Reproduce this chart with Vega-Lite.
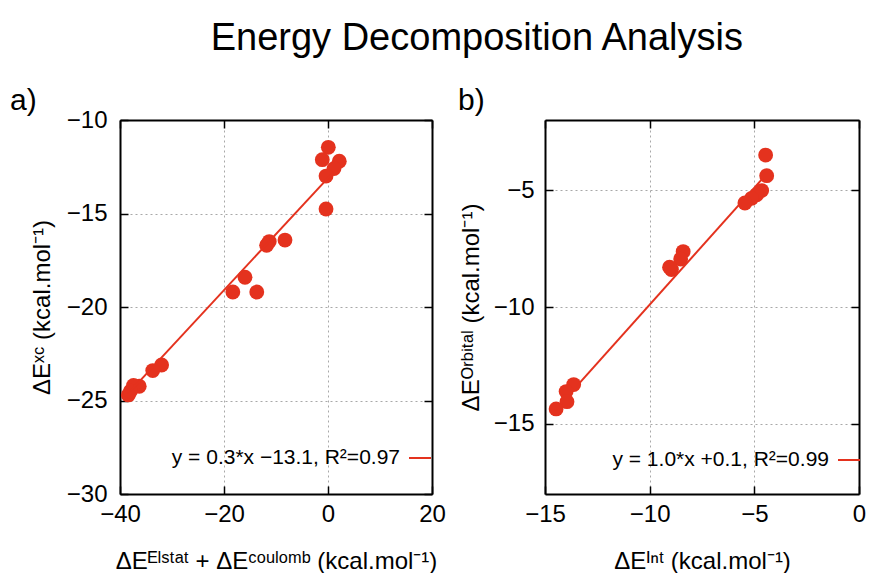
{
  "$schema": "https://vega.github.io/schema/vega-lite/v6.json",
  "autosize": {"type": "pad"},
  "padding": {"left": 10, "top": 20, "right": 0, "bottom": 0},
  "background": "white",
  "title": {"text": "Energy Decomposition Analysis", "fontSize": 38, "fontWeight": "normal", "font": "Liberation Sans", "color": "black", "anchor": "middle", "dx": 39, "offset": 28},
  "datasets": {
    "a_pts": [
      {"x": 0.06, "y": -11.46}, {"x": -1.1, "y": -12.12}, {"x": 2.17, "y": -12.2}, {"x": 1.15, "y": -12.6},
      {"x": -0.38, "y": -13.0}, {"x": -0.38, "y": -14.76}, {"x": -11.3, "y": -16.5}, {"x": -11.8, "y": -16.7},
      {"x": -8.27, "y": -16.42}, {"x": -15.96, "y": -18.41}, {"x": -18.3, "y": -19.2}, {"x": -13.7, "y": -19.2},
      {"x": -32.0, "y": -23.1}, {"x": -33.7, "y": -23.4}, {"x": -36.3, "y": -24.24}, {"x": -37.4, "y": -24.2},
      {"x": -38.4, "y": -24.7}, {"x": -38.0, "y": -24.5}
    ],
    "a_fit": [
      {"x": -38.4, "y": -24.62, "fit": "y = 0.3*x −13.1, R²=0.97"},
      {"x": 1.0, "y": -12.8, "fit": "y = 0.3*x −13.1, R²=0.97"}
    ],
    "b_pts": [
      {"x": -4.46, "y": -3.5}, {"x": -4.41, "y": -4.38}, {"x": -4.65, "y": -5.02}, {"x": -4.89, "y": -5.2},
      {"x": -5.13, "y": -5.35}, {"x": -5.45, "y": -5.55}, {"x": -8.4, "y": -7.63}, {"x": -8.52, "y": -7.95},
      {"x": -8.96, "y": -8.4}, {"x": -9.05, "y": -8.3}, {"x": -13.63, "y": -13.32}, {"x": -13.99, "y": -13.62},
      {"x": -13.95, "y": -14.05}, {"x": -14.47, "y": -14.36}
    ],
    "b_fit": [
      {"x": -14.5, "y": -14.4, "fit": "y = 1.0*x +0.1, R²=0.99"},
      {"x": -4.6, "y": -4.5, "fit": "y = 1.0*x +0.1, R²=0.99"}
    ]
  },
  "config": {
    "font": "Liberation Sans",
    "view": {"stroke": null},
    "axis": {
      "labelFont": "Liberation Sans", "labelFontSize": 24, "labelColor": "black", "labelFlush": false,
      "tickColor": "black", "tickSize": -8, "tickWidth": 1.5,
      "domainColor": "black", "domainWidth": 2,
      "titleFont": "Liberation Sans", "titleFontSize": 24, "titleFontWeight": "normal", "titleColor": "black",
      "gridColor": "#a8a8a8", "gridDash": [2, 3], "gridWidth": 1
    },
    "legend": {"labelFont": "Liberation Sans", "labelFontSize": 21, "labelColor": "black", "labelLimit": 0}
  },
  "spacing": 12,
  "resolve": {"scale": {"color": "independent"}, "legend": {"color": "independent"}},
  "hconcat": [
    {
      "width": 312, "height": 374,
      "title": {"text": "a)", "anchor": "start", "frame": "group", "dx": -110, "dy": 12, "fontSize": 30, "fontWeight": "normal", "color": "black", "offset": 4},
      "resolve": {"axis": {"x": "independent", "y": "independent"}},
      "layer": [
        {
          "data": {"name": "a_pts"},
          "mark": {"type": "circle", "size": 220, "opacity": 1, "color": "#e4321e"},
          "encoding": {
            "x": {"field": "x", "type": "quantitative", "scale": {"domain": [-40, 20], "nice": false, "zero": false},
                  "axis": {"orient": "bottom", "values": [-40, -20, 0, 20], "grid": true, "labelPadding": 16, "titlePadding": 23,
                           "title": "ΔEᴱˡˢᵗᵃᵗ + ΔEᶜᵒᵘˡᵒᵐᵇ (kcal.mol⁻¹)"}},
            "y": {"field": "y", "type": "quantitative", "scale": {"domain": [-30, -10], "nice": false, "zero": false},
                  "axis": {"orient": "left", "values": [-30, -25, -20, -15, -10], "grid": true, "labelPadding": 21, "titlePadding": 12,
                           "title": "ΔEˣᶜ (kcal.mol⁻¹)"}}
          }
        },
        {
          "data": {"name": "a_fit"},
          "mark": {"type": "line", "strokeWidth": 2},
          "encoding": {
            "x": {"field": "x", "type": "quantitative", "axis": {"orient": "top", "values": [-40, -20, 0, 20], "labels": false, "grid": false, "title": null}},
            "y": {"field": "y", "type": "quantitative", "axis": {"orient": "right", "values": [-30, -25, -20, -15, -10], "labels": false, "grid": false, "title": null}},
            "color": {"field": "fit", "type": "nominal", "scale": {"range": ["#e4321e"]},
                      "legend": {"title": null, "orient": "none", "legendX": 288, "legendY": 326, "padding": 0,
                                 "symbolType": "stroke", "symbolSize": 484, "symbolStrokeWidth": 2,
                                 "labelAlign": "right", "labelOffset": -32}}
          }
        }
      ]
    },
    {
      "width": 314, "height": 374,
      "title": {"text": "b)", "anchor": "start", "frame": "group", "dx": -87, "dy": 1, "fontSize": 30, "fontWeight": "normal", "color": "black", "offset": 4},
      "resolve": {"axis": {"x": "independent", "y": "independent"}},
      "layer": [
        {
          "data": {"name": "b_pts"},
          "mark": {"type": "circle", "size": 220, "opacity": 1, "color": "#e4321e"},
          "encoding": {
            "x": {"field": "x", "type": "quantitative", "scale": {"domain": [-15, 0], "nice": false, "zero": false},
                  "axis": {"orient": "bottom", "values": [-15, -10, -5, 0], "grid": true, "labelPadding": 16, "titlePadding": 23,
                           "title": "ΔEᴵⁿᵗ (kcal.mol⁻¹)"}},
            "y": {"field": "y", "type": "quantitative", "scale": {"domain": [-18, -2], "nice": false, "zero": false},
                  "axis": {"orient": "left", "values": [-15, -10, -5], "grid": true, "labelPadding": 19, "titlePadding": 10,
                           "title": "ΔEᴼʳᵇⁱᵗᵃˡ (kcal.mol⁻¹)"}}
          }
        },
        {
          "data": {"name": "b_fit"},
          "mark": {"type": "line", "strokeWidth": 2},
          "encoding": {
            "x": {"field": "x", "type": "quantitative", "axis": {"orient": "top", "values": [-15, -10, -5, 0], "labels": false, "grid": false, "title": null}},
            "y": {"field": "y", "type": "quantitative", "axis": {"orient": "right", "values": [-15, -10, -5], "labels": false, "grid": false, "title": null}},
            "color": {"field": "fit", "type": "nominal", "scale": {"range": ["#e4321e"]},
                      "legend": {"title": null, "orient": "none", "legendX": 292, "legendY": 328, "padding": 0,
                                 "symbolType": "stroke", "symbolSize": 484, "symbolStrokeWidth": 2,
                                 "labelAlign": "right", "labelOffset": -32}}
          }
        }
      ]
    }
  ]
}
